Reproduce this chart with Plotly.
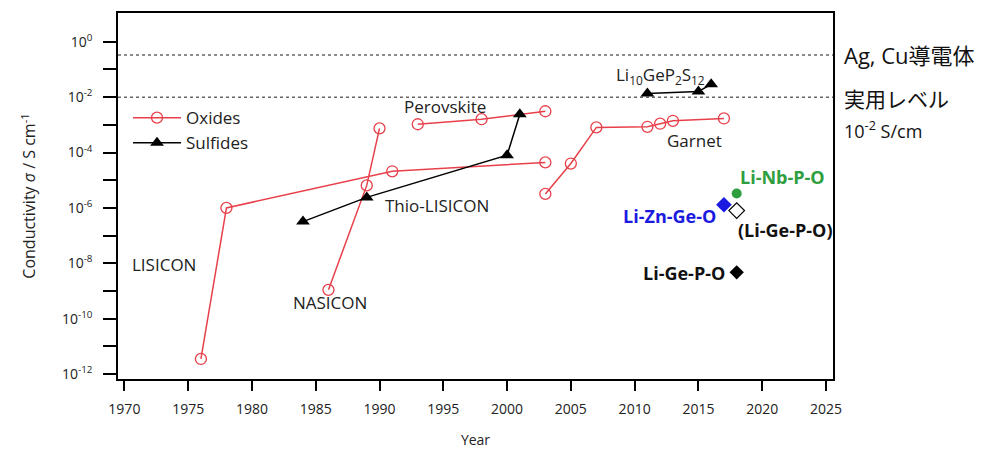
import plotly.graph_objects as go
import math

# ---- data (year, conductivity S/cm) ----
lisicon_year = [1976, 1978, 1991, 2003]
lisicon_sigma = [3.5e-12, 1.0e-6, 2.1e-5, 4.4e-5]

nasicon_year = [1986, 1989, 1990]
nasicon_sigma = [1.1e-9, 6.5e-6, 7.5e-4]

perovskite_year = [1993, 1998, 2003]
perovskite_sigma = [1.05e-3, 1.6e-3, 3.1e-3]

garnet_year = [2003, 2005, 2007, 2011, 2012, 2013, 2017]
garnet_sigma = [3.2e-6, 4.0e-5, 8.1e-4, 8.5e-4, 1.1e-3, 1.4e-3, 1.7e-3]

thio_year = [1984, 1989, 2000, 2001]
thio_sigma = [3.2e-7, 2.4e-6, 8.0e-5, 2.4e-3]

lgps_year = [2011, 2015, 2016]
lgps_sigma = [1.35e-2, 1.6e-2, 2.9e-2]

linbpo_year = [2018]
linbpo_sigma = [3.3e-6]
liznge_year = [2017]
liznge_sigma = [1.3e-6]
ligepo_open_year = [2018]
ligepo_open_sigma = [8.0e-7]
ligepo_year = [2018]
ligepo_sigma = [4.7e-9]

ag_cu_level = 0.33
practical_level = 1e-2

x_range = [1969.5, 2025.55]
x_ticks = list(range(1970, 2030, 5))
y_exponents = list(range(-12, 1))

RED = "#e8404a"
FONT = "Open Sans"

fig = go.Figure()

# reference levels (dotted lines across the whole x range)
for lvl in (ag_cu_level, practical_level):
    fig.add_trace(go.Scatter(x=x_range, y=[lvl, lvl], mode="lines", showlegend=False,
                             hoverinfo="skip", cliponaxis=False,
                             line=dict(color="#666666", width=1.5, dash="dot")))

def oxide(x, y, show):
    fig.add_trace(go.Scatter(
        x=x, y=y, mode="lines+markers", name="Oxides", showlegend=show,
        legendgroup="ox",
        line=dict(color=RED, width=1.5),
        marker=dict(symbol="circle-open", size=11, color=RED, line=dict(width=1.3)),
    ))

def sulfide(x, y, show):
    fig.add_trace(go.Scatter(
        x=x, y=y, mode="lines+markers", name="Sulfides", showlegend=show,
        legendgroup="su",
        line=dict(color="black", width=1.5),
        marker=dict(symbol="triangle-up", size=12, color="black"),
    ))

oxide(lisicon_year, lisicon_sigma, True)
oxide(nasicon_year, nasicon_sigma, False)
oxide(perovskite_year, perovskite_sigma, False)
oxide(garnet_year, garnet_sigma, False)
sulfide(thio_year, thio_sigma, True)
sulfide(lgps_year, lgps_sigma, False)

fig.add_trace(go.Scatter(x=linbpo_year, y=linbpo_sigma, mode="markers", showlegend=False,
                         marker=dict(symbol="circle", size=10, color="#2e9e3e")))
fig.add_trace(go.Scatter(x=liznge_year, y=liznge_sigma, mode="markers", showlegend=False,
                         marker=dict(symbol="diamond", size=12, color="#1a1ae0")))
fig.add_trace(go.Scatter(x=ligepo_open_year, y=ligepo_open_sigma, mode="markers", showlegend=False,
                         marker=dict(symbol="diamond-open", size=12, color="black", line=dict(width=1.2))))
fig.add_trace(go.Scatter(x=ligepo_year, y=ligepo_sigma, mode="markers", showlegend=False,
                         marker=dict(symbol="diamond", size=11, color="black")))

def label(text, x, y, color="#222222", bold=False, size=17, xanchor="center"):
    t = f"<b>{text}</b>" if bold else text
    fig.add_annotation(x=x, y=y, text=t, showarrow=False, xanchor=xanchor, yanchor="middle",
                       font=dict(family=FONT, size=size, color=color))

label("LISICON", 1973.1, -8.06)
label("NASICON", 1986.1, -9.4)
label("Thio-LISICON", 1990.3, -5.9, xanchor="left")
label("Perovskite", 1995.1, -2.33)
label("Li<sub>10</sub>GeP<sub>2</sub>S<sub>12</sub>", 2012.0, -1.22)
label("Garnet", 2014.7, -3.56)
label("Li-Nb-P-O", 2021.6, -4.9, color="#2e9e3e", bold=True, size=18)
label("Li-Zn-Ge-O", 2016.5, -6.28, color="#1a1ae0", bold=True, size=18, xanchor="right")
label("(Li-Ge-P-O)", 2021.8, -6.8, color="#111111", bold=True, size=18)
label("Li-Ge-P-O", 2013.9, -8.34, color="#111111", bold=True, size=18)

# right-side labels
def side(text, y, size):
    fig.add_annotation(xref="paper", x=1.012, y=y, yref="y", text=text, showarrow=False,
                       xanchor="left", yanchor="middle",
                       font=dict(family=FONT + ", Noto Sans CJK JP", size=size, color="#111111"))

side("Ag, Cu導電体", math.log10(ag_cu_level), 22)
side("実用レベル", -2.06, 21)
side("10<sup>-2</sup> S/cm", -3.2, 18)

fig.update_layout(
    width=981, height=450,
    margin=dict(l=118, r=148, t=13, b=71),
    plot_bgcolor="white", paper_bgcolor="white",
    font=dict(family=FONT, size=14, color="#222222"),
    legend=dict(x=0.014, y=0.762, xanchor="left", yanchor="top",
                bgcolor="rgba(0,0,0,0)", font=dict(family=FONT, size=17, color="#222222"),
                itemwidth=48, tracegroupgap=0),
    xaxis=dict(range=x_range, tickvals=x_ticks, ticks="outside", ticklen=10,
               tickwidth=1.5, tickcolor="black", showline=True, linecolor="black", linewidth=1.5,
               mirror=True, showgrid=False, zeroline=False, automargin=False,
               ticklabelstandoff=6,
               title=dict(text="Year", font=dict(size=14), standoff=19),
               tickfont=dict(size=14)),
    yaxis=dict(type="log", range=[-12.18, 1.04],
               tickvals=[10.0 ** e for e in y_exponents],
               ticktext=[f"10<sup>{e}</sup>" if e % 2 == 0 else "" for e in y_exponents],
               ticks="outside", ticklen=13, tickwidth=1.5, tickcolor="black",
               showline=True, linecolor="black", linewidth=1.5, mirror=True,
               showgrid=False, zeroline=False, automargin=False,
               ticklabelstandoff=8,
               title=dict(text="Conductivity <i>σ</i> / S cm<sup>-1</sup>", font=dict(size=16), standoff=22),
               tickfont=dict(size=14)),
)

fig.write_html("out.html", config={"displayModeBar": False},
               post_script="document.body.style.margin='0';")
